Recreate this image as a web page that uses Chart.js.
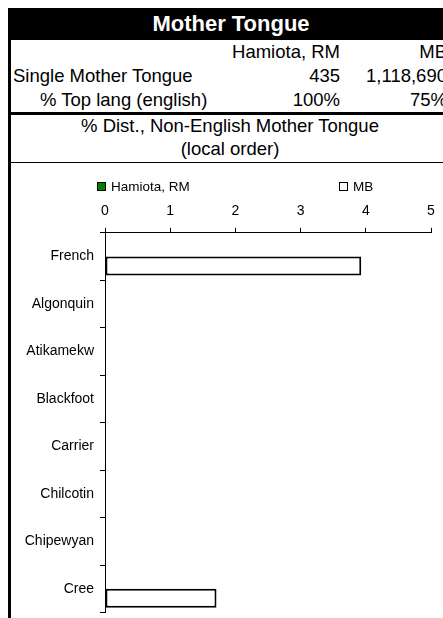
<!DOCTYPE html>
<html>
<head>
<meta charset="utf-8">
<script src="https://cdn.jsdelivr.net/npm/chart.js@4/dist/chart.umd.min.js"></script>
<style>
html,body{margin:0;padding:0;width:443px;height:618px;overflow:hidden;background:#fff;}
body{position:relative;font-family:"Liberation Sans",Arial,sans-serif;color:#000;}
.abs{position:absolute;white-space:nowrap;}
#title{left:8px;top:8px;width:446px;height:32px;background:#000;color:#fff;font-weight:bold;font-size:22px;line-height:32px;text-align:center;}
#lborder{left:8px;top:40px;width:3px;height:600px;background:#000;}
.row{font-size:18.5px;line-height:24px;height:24px;}
.r{text-align:right;}
.c{text-align:center;}
#thick{left:11px;top:112px;width:440px;height:3px;background:#000;}
#thin{left:11px;top:162px;width:440px;height:1px;background:#000;}
#chartWrap{left:11px;top:164px;width:432px;height:463px;}
.lg{font-size:13.5px;line-height:16px;height:16px;}
.lgbox{display:inline-block;width:9px;height:9px;box-sizing:border-box;border:1.5px solid #000;vertical-align:middle;margin-right:5px;position:relative;top:-1px;}
</style>
</head>
<body>
<div class="abs" id="title">Mother Tongue</div>
<div class="abs" id="lborder"></div>

<div class="abs row r" id="h1" style="left:200px;top:40px;width:140px;"></div>
<div class="abs row r" id="h2" style="left:340px;top:40px;width:107px;"></div>

<div class="abs row" id="l1" style="left:13px;top:64px;"></div>
<div class="abs row r" id="v11" style="left:200px;top:64px;width:140px;"></div>
<div class="abs row r" id="v12" style="left:340px;top:64px;width:107px;"></div>

<div class="abs row" id="l2" style="left:40px;top:88px;"></div>
<div class="abs row r" id="v21" style="left:200px;top:88px;width:140px;"></div>
<div class="abs row r" id="v22" style="left:340px;top:88px;width:107px;"></div>

<div class="abs" id="thick"></div>
<div class="abs row c" id="sub1" style="left:11px;top:114px;width:438px;"></div>
<div class="abs row c" id="sub2" style="left:11px;top:137px;width:438px;"></div>
<div class="abs" id="thin"></div>

<div class="abs" id="chartWrap"><canvas id="chart" width="432" height="463"></canvas></div>

<div class="abs lg" id="lg1" style="left:97px;top:179px;"></div>
<div class="abs lg" id="lg2" style="left:339px;top:179px;"></div>

<script>
// ---- data ----
const title = "Mother Tongue";
const seriesNames = ["Hamiota, RM", "MB"];
const rowLabels = ["Single Mother Tongue", "% Top lang (english)"];
const singleMotherTongue = ["435", "1,118,690"];
const topLangPct = ["100%", "75%"];
const subtitle = ["% Dist., Non-English Mother Tongue", "(local order)"];
const categories = ["French", "Algonquin", "Atikamekw", "Blackfoot", "Carrier", "Chilcotin", "Chipewyan", "Cree"];
const hamiotaValues = [0, 0, 0, 0, 0, 0, 0, 0];
const mbValues = [3.93, 0, 0, 0, 0, 0, 0, 1.71];
const xTicks = [0, 1, 2, 3, 4, 5];
const seriesColors = ["#008000", "#ffffff"];

// ---- table text ----
document.getElementById('title').textContent = title;
document.getElementById('h1').textContent = seriesNames[0];
document.getElementById('h2').textContent = seriesNames[1];
document.getElementById('l1').textContent = rowLabels[0];
document.getElementById('l2').textContent = rowLabels[1];
document.getElementById('v11').textContent = singleMotherTongue[0];
document.getElementById('v12').textContent = singleMotherTongue[1];
document.getElementById('v21').textContent = topLangPct[0];
document.getElementById('v22').textContent = topLangPct[1];
document.getElementById('sub1').textContent = subtitle[0];
document.getElementById('sub2').textContent = subtitle[1];

// ---- legend ----
function legendItem(id, name, color){
  const el = document.getElementById(id);
  const b = document.createElement('span');
  b.className = 'lgbox';
  b.style.background = color;
  el.appendChild(b);
  el.appendChild(document.createTextNode(name));
}
legendItem('lg1', seriesNames[0], seriesColors[0]);
legendItem('lg2', seriesNames[1], seriesColors[1]);

// ---- chart ----
const FONT = '"Liberation Sans", Arial, sans-serif';
new Chart(document.getElementById('chart'), {
  type: 'bar',
  data: {
    labels: categories,
    datasets: [
      {label: seriesNames[0], data: hamiotaValues, backgroundColor: seriesColors[0], borderColor: '#000',
       borderWidth: 2, borderSkipped: false, inflateAmount: 0},
      {label: seriesNames[1], data: mbValues, backgroundColor: seriesColors[1], borderColor: '#000',
       borderWidth: 2, borderSkipped: false, inflateAmount: 0}
    ]
  },
  options: {
    indexAxis: 'y',
    responsive: false,
    animation: false,
    devicePixelRatio: 1,
    categoryPercentage: 0.8,
    barPercentage: 1.0,
    layout: {padding: {top: 31, right: 12, bottom: 7, left: 0}},
    plugins: {legend: {display: false}, tooltip: {enabled: false}, title: {display: false}},
    scales: {
      x: {
        type: 'linear', position: 'top', min: 0, max: 5,
        afterBuildTicks: (s) => { s.ticks = xTicks.map(v => ({value: v})); },
        ticks: {color: '#000', font: {family: FONT, size: 14}, padding: 8, maxRotation: 0},
        grid: {drawOnChartArea: false, drawTicks: true, tickLength: 5, color: '#000', lineWidth: 1},
        border: {display: true, color: '#000', width: 1}
      },
      y: {
        type: 'category',
        afterFit: (s) => { s.width = 94; },
        ticks: {color: '#000', font: {family: FONT, size: 14}, padding: 6},
        grid: {drawOnChartArea: false, drawTicks: true, tickLength: 5, color: '#000', lineWidth: 1, offset: true},
        border: {display: true, color: '#000', width: 1}
      }
    }
  }
});
</script>
</body>
</html>
